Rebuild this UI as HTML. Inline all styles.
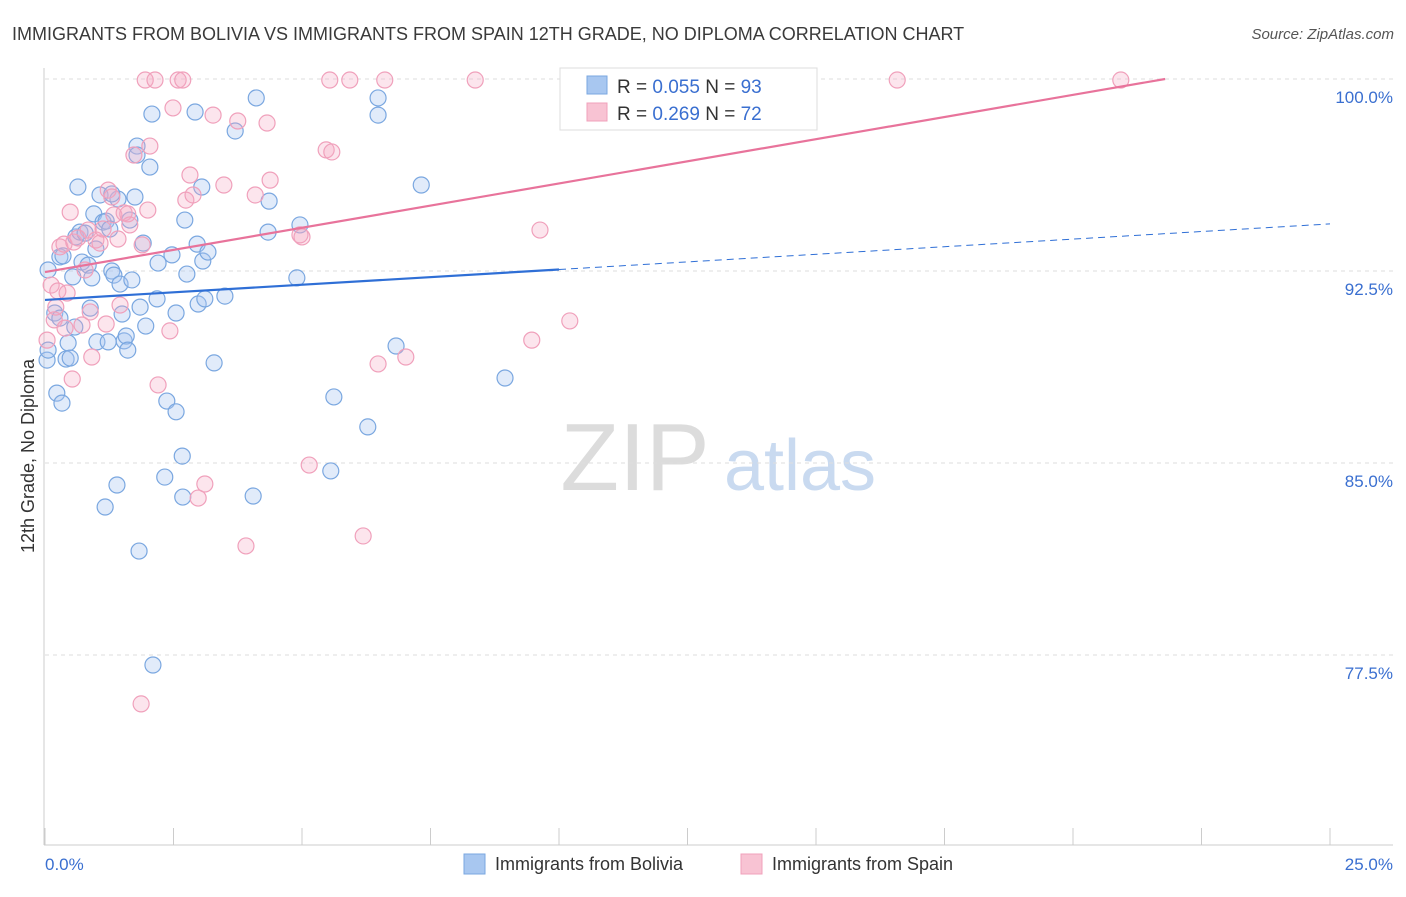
<!DOCTYPE html>
<html><head><meta charset="utf-8">
<style>
body{margin:0;background:#fff;font-family:"Liberation Sans",sans-serif;}
svg text{font-family:"Liberation Sans",sans-serif;}
</style></head>
<body>
<svg id="chart" width="1406" height="892" xmlns="http://www.w3.org/2000/svg">
<text x="12" y="40" font-size="18" fill="#3a3a3a">IMMIGRANTS FROM BOLIVIA VS IMMIGRANTS FROM SPAIN 12TH GRADE, NO DIPLOMA CORRELATION CHART</text>
<text x="1394" y="39" font-size="15" fill="#555" text-anchor="end" font-style="italic">Source: ZipAtlas.com</text>
<g>
<text x="635" y="490" font-size="96" fill="#dcdcdc" text-anchor="middle" font-family="Liberation Serif, serif">ZIP</text>
<text x="800" y="490" font-size="72" fill="#c9daf0" text-anchor="middle">atlas</text>
</g>
<g id="grid"></g>
<g id="axes"></g>
<g id="pts"></g>
<g id="lines"></g>
<text transform="translate(34,456) rotate(-90)" font-size="18" fill="#333" text-anchor="middle">12th Grade, No Diploma</text>
<text x="45" y="870" font-size="17" fill="#3a6fd0">0.0%</text>
<text x="1393" y="870" font-size="17" fill="#3a6fd0" text-anchor="end">25.0%</text>
<g>
<rect x="560" y="68" width="257" height="62" fill="#fff" stroke="#ddd"/>
<rect x="587" y="76" width="20" height="18" fill="#a8c7f0" stroke="#7aa7e0"/>
<rect x="587" y="103" width="20" height="18" fill="#f8c3d3" stroke="#f0a0bb"/>
<text x="617" y="93" font-size="19" fill="#333">R = <tspan fill="#3a6fd0">0.055</tspan>   N = <tspan fill="#3a6fd0">93</tspan></text>
<text x="617" y="120" font-size="19" fill="#333">R = <tspan fill="#3a6fd0"> 0.269</tspan>   N = <tspan fill="#3a6fd0">72</tspan></text>
</g>
<g>
<rect x="464" y="854" width="21" height="20" fill="#a8c7f0" stroke="#7aa7e0"/>
<text x="495" y="870" font-size="18" fill="#333">Immigrants from Bolivia</text>
<rect x="741" y="854" width="21" height="20" fill="#f8c3d3" stroke="#f0a0bb"/>
<text x="772" y="870" font-size="18" fill="#333">Immigrants from Spain</text>
</g>
</svg>
<script>
const yTicks=[100,92.5,85,77.5];
const yTickLabels=["100.0%","92.5%","85.0%","77.5%"];
const blueX=[0.04,0.06,0.23,0.33,0.19,0.29,0.29,0.35,0.41,0.45,0.49,0.54,0.58,0.64,0.60,0.68,0.72,0.78,0.84,0.88,0.91,0.95,0.99,1.01,1.07,1.13,1.17,1.19,1.23,1.26,1.30,1.34,1.40,1.42,1.46,1.50,1.54,1.58,1.61,1.65,1.69,1.75,1.79,1.83,1.85,1.91,1.96,2.04,2.08,2.10,2.18,2.20,2.33,2.37,2.47,2.55,2.55,2.67,2.68,2.72,2.76,2.92,2.96,2.98,3.05,3.07,3.11,3.17,3.29,3.50,3.70,4.05,4.11,4.34,4.36,4.90,4.96,5.56,5.62,6.28,6.48,6.48,6.83,7.32,8.95,0.06,1.79,1.30];
const blueY=[89.02,89.41,87.73,87.34,90.86,90.66,93.05,93.09,89.06,89.69,89.10,92.27,90.31,95.78,93.83,94.02,92.85,93.98,92.73,91.05,92.23,94.73,93.36,89.73,95.47,94.41,83.28,94.45,89.73,94.14,92.50,92.34,84.14,95.31,91.99,90.82,89.77,89.96,89.41,94.49,92.15,95.39,97.38,81.56,91.09,93.59,90.35,96.56,98.63,77.11,91.41,92.81,84.45,87.42,93.13,87.00,90.86,85.27,83.67,94.49,92.38,98.71,93.55,91.21,95.78,92.89,91.41,93.24,88.91,91.52,97.97,83.71,99.26,94.02,95.23,92.23,94.30,84.69,87.58,86.41,99.26,98.59,89.57,95.86,88.32,92.54,97.03,95.51];
const pinkX=[0.12,0.18,0.21,0.25,0.29,0.37,0.39,0.43,0.49,0.53,0.56,0.64,0.72,0.78,0.84,0.88,0.91,0.99,1.07,1.13,1.19,1.23,1.30,1.34,1.42,1.46,1.54,1.61,1.65,1.73,1.89,1.95,2.00,2.04,2.14,2.20,2.43,2.49,2.59,2.68,2.74,2.82,2.88,2.98,3.11,3.27,3.48,3.75,3.91,4.09,4.32,4.38,4.96,5.00,5.14,5.47,5.54,5.58,5.93,6.19,6.48,6.61,7.02,8.37,9.47,9.63,10.21,16.58,20.93,1.87,0.04];
const pinkY=[91.95,90.59,91.09,91.72,93.44,93.55,90.27,91.64,94.80,88.28,93.63,93.79,90.39,92.54,94.10,90.90,89.14,93.71,93.59,94.14,90.43,95.66,95.39,94.69,93.75,91.17,94.77,94.73,94.30,97.03,93.52,99.96,94.88,97.38,99.96,88.05,90.16,98.87,99.96,99.96,95.27,96.25,95.47,83.63,84.18,98.59,95.86,98.36,81.76,95.47,98.28,96.05,93.91,93.83,84.92,97.23,99.96,97.15,99.96,82.15,88.87,99.96,89.14,99.96,89.80,94.10,90.55,99.96,99.96,75.59,89.80];
const blueTrend=[91.37,94.34]; // value at x=0 and x=25
const pinkTrend=[92.46,101.11];
const NS="http://www.w3.org/2000/svg";
const X0=45,X1=1330,XMIN=0,XMAX=25,Y0=79,YPX=25.6;
function sx(v){return X0+(v-XMIN)/(XMAX-XMIN)*(X1-X0);}
function sy(v){return Y0+(100-v)*YPX;}
function mk(tag,attrs,parent){const e=document.createElementNS(NS,tag);for(const k in attrs)e.setAttribute(k,attrs[k]);parent.appendChild(e);return e;}
const grid=document.getElementById('grid'),axes=document.getElementById('axes'),pts=document.getElementById('pts'),lines=document.getElementById('lines');
yTicks.forEach((t,i)=>{
 const l=mk('line',{x1:X0,x2:1393,y1:sy(t),y2:sy(t),stroke:'#dedede','stroke-dasharray':'4,4'},grid);
 
 
 const tx=mk('text',{x:1393,y:sy(t)+24,'font-size':17,fill:'#3a6fd0','text-anchor':'end'},grid);
 tx.textContent=yTickLabels[i];
 
 
});
const ya=mk('line',{x1:44,x2:44,y1:68,y2:845,stroke:'#ccc'},axes);


const xa=mk('line',{x1:44,x2:1393,y1:845,y2:845,stroke:'#ccc'},axes);


for(let i=0;i<=10;i++){
 const x=sx(i*2.5);
 const tk=mk('line',{x1:x,x2:x,y1:828,y2:845,stroke:'#ccc'},axes);
 
 
}
function drawPts(xs,ys,fill,stroke,name){
 xs.forEach((x,i)=>{
  const c=mk('circle',{cx:sx(x),cy:sy(ys[i]),r:8,fill:fill,stroke:stroke,'stroke-width':1.2},pts);
  
  
 });
}
drawPts(blueX,blueY,'rgba(168,199,240,0.35)','#7aa7e0','bolivia-point');
drawPts(pinkX,pinkY,'rgba(244,170,195,0.3)','#f0a0bb','spain-point');
function tv(tr,x){return tr[0]+(tr[1]-tr[0])*x/25;}
const b1=mk('line',{x1:sx(0),y1:sy(tv(blueTrend,0)),x2:sx(10),y2:sy(tv(blueTrend,10)),stroke:'#2f6fd6','stroke-width':2.2},lines);


const b2=mk('line',{x1:sx(10),y1:sy(tv(blueTrend,10)),x2:sx(25),y2:sy(tv(blueTrend,25)),stroke:'#2f6fd6','stroke-width':1,'stroke-dasharray':'7,5'},lines);


const pEnd=25*(100-pinkTrend[0])/(pinkTrend[1]-pinkTrend[0]);
const p1=mk('line',{x1:sx(0),y1:sy(tv(pinkTrend,0)),x2:sx(pEnd),y2:sy(100),stroke:'#e8739b','stroke-width':2.2},lines);


</script>
</body></html>
